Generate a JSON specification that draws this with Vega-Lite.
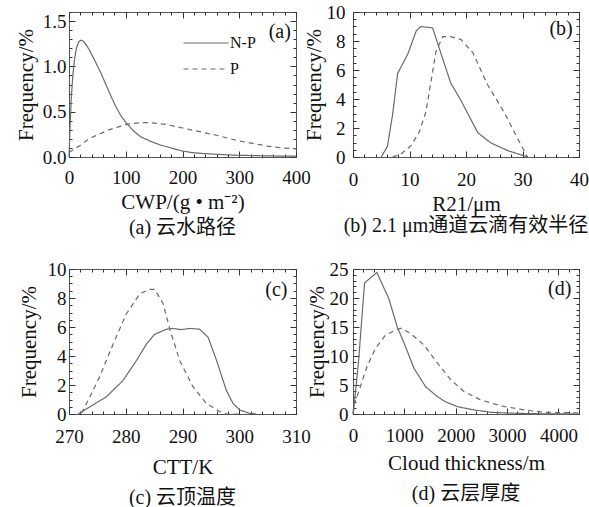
{
  "$schema": "https://vega.github.io/schema/vega-lite/v6.json",
  "padding": {"left": 14, "top": 2, "right": 5, "bottom": 0},
  "background": "white",
  "config": {
    "font": "Liberation Serif",
    "view": {"stroke": "#555", "strokeWidth": 1},
    "axis": {"labelFont": "Liberation Serif", "labelFontSize": 19, "labelColor": "#111", "titleFont": "Liberation Serif", "titleFontSize": 21, "titleFontWeight": "normal", "titleColor": "#111", "grid": false, "domain": false, "ticks": true, "tickColor": "#333", "tickWidth": 1, "tickSize": -6, "labelOverlap": false, "labelFlush": false},
    "title": {"font": "Liberation Serif, Noto Sans CJK SC", "fontSize": 20, "fontWeight": "normal", "color": "#111", "orient": "bottom", "frame": "group", "anchor": "middle"},
    "line": {"color": "#6a6a6a", "strokeWidth": 1.2},
    "text": {"font": "Liberation Serif", "fontSize": 20, "fill": "#111"}
  },
  "datasets": {
    "a": [
      {"x": 0, "y": 0.0, "s": "N-P"}, {"x": 2, "y": 0.35, "s": "N-P"}, {"x": 4, "y": 0.65, "s": "N-P"}, {"x": 7, "y": 0.92, "s": "N-P"}, {"x": 10, "y": 1.09, "s": "N-P"}, {"x": 13, "y": 1.2, "s": "N-P"}, {"x": 17, "y": 1.27, "s": "N-P"}, {"x": 21, "y": 1.29, "s": "N-P"}, {"x": 25, "y": 1.28, "s": "N-P"}, {"x": 30, "y": 1.24, "s": "N-P"}, {"x": 36, "y": 1.18, "s": "N-P"}, {"x": 45, "y": 1.07, "s": "N-P"}, {"x": 56, "y": 0.93, "s": "N-P"}, {"x": 65, "y": 0.8, "s": "N-P"}, {"x": 74, "y": 0.67, "s": "N-P"}, {"x": 83, "y": 0.55, "s": "N-P"}, {"x": 92, "y": 0.45, "s": "N-P"}, {"x": 103, "y": 0.36, "s": "N-P"}, {"x": 115, "y": 0.28, "s": "N-P"}, {"x": 127, "y": 0.22, "s": "N-P"}, {"x": 145, "y": 0.17, "s": "N-P"}, {"x": 162, "y": 0.13, "s": "N-P"}, {"x": 180, "y": 0.1, "s": "N-P"}, {"x": 197, "y": 0.07, "s": "N-P"}, {"x": 215, "y": 0.05, "s": "N-P"}, {"x": 232, "y": 0.04, "s": "N-P"}, {"x": 260, "y": 0.03, "s": "N-P"}, {"x": 291, "y": 0.02, "s": "N-P"}, {"x": 330, "y": 0.015, "s": "N-P"}, {"x": 370, "y": 0.01, "s": "N-P"}, {"x": 400, "y": 0.01, "s": "N-P"},
      {"x": 0, "y": 0.05, "s": "P"}, {"x": 10, "y": 0.09, "s": "P"}, {"x": 20, "y": 0.13, "s": "P"}, {"x": 33, "y": 0.19, "s": "P"}, {"x": 45, "y": 0.23, "s": "P"}, {"x": 56, "y": 0.26, "s": "P"}, {"x": 70, "y": 0.3, "s": "P"}, {"x": 86, "y": 0.33, "s": "P"}, {"x": 100, "y": 0.36, "s": "P"}, {"x": 115, "y": 0.37, "s": "P"}, {"x": 127, "y": 0.38, "s": "P"}, {"x": 140, "y": 0.38, "s": "P"}, {"x": 156, "y": 0.37, "s": "P"}, {"x": 170, "y": 0.36, "s": "P"}, {"x": 185, "y": 0.34, "s": "P"}, {"x": 200, "y": 0.32, "s": "P"}, {"x": 215, "y": 0.3, "s": "P"}, {"x": 230, "y": 0.28, "s": "P"}, {"x": 244, "y": 0.26, "s": "P"}, {"x": 260, "y": 0.24, "s": "P"}, {"x": 279, "y": 0.21, "s": "P"}, {"x": 297, "y": 0.18, "s": "P"}, {"x": 315, "y": 0.16, "s": "P"}, {"x": 333, "y": 0.14, "s": "P"}, {"x": 350, "y": 0.12, "s": "P"}, {"x": 375, "y": 0.1, "s": "P"}, {"x": 400, "y": 0.09, "s": "P"}
    ],
    "b": [
      {"x": 5, "y": 0, "s": "N-P"}, {"x": 6.1, "y": 0.74, "s": "N-P"}, {"x": 7, "y": 2.9, "s": "N-P"}, {"x": 7.9, "y": 5.76, "s": "N-P"}, {"x": 9.7, "y": 7.1, "s": "N-P"}, {"x": 11.2, "y": 8.7, "s": "N-P"}, {"x": 12, "y": 9.0, "s": "N-P"}, {"x": 14.1, "y": 8.9, "s": "N-P"}, {"x": 15.6, "y": 7.1, "s": "N-P"}, {"x": 17.3, "y": 5.1, "s": "N-P"}, {"x": 19.1, "y": 3.9, "s": "N-P"}, {"x": 22.1, "y": 1.67, "s": "N-P"}, {"x": 24.4, "y": 0.97, "s": "N-P"}, {"x": 27.4, "y": 0.44, "s": "N-P"}, {"x": 30.9, "y": 0, "s": "N-P"},
      {"x": 7, "y": 0, "s": "P"}, {"x": 8.5, "y": 0.2, "s": "P"}, {"x": 10.3, "y": 0.8, "s": "P"}, {"x": 11.7, "y": 1.7, "s": "P"}, {"x": 12.9, "y": 3.1, "s": "P"}, {"x": 13.8, "y": 5.2, "s": "P"}, {"x": 14.7, "y": 7.3, "s": "P"}, {"x": 15.9, "y": 8.3, "s": "P"}, {"x": 17.3, "y": 8.3, "s": "P"}, {"x": 19.1, "y": 8.1, "s": "P"}, {"x": 21.2, "y": 7.2, "s": "P"}, {"x": 23.8, "y": 5.0, "s": "P"}, {"x": 26.8, "y": 3.05, "s": "P"}, {"x": 29.1, "y": 1.3, "s": "P"}, {"x": 30.9, "y": 0, "s": "P"}
    ],
    "c": [
      {"x": 271.6, "y": 0, "s": "N-P"}, {"x": 273.7, "y": 0.5, "s": "N-P"}, {"x": 276.6, "y": 1.19, "s": "N-P"}, {"x": 279.5, "y": 2.3, "s": "N-P"}, {"x": 281.9, "y": 3.7, "s": "N-P"}, {"x": 283.7, "y": 4.85, "s": "N-P"}, {"x": 285.1, "y": 5.5, "s": "N-P"}, {"x": 287.2, "y": 5.85, "s": "N-P"}, {"x": 288.3, "y": 5.9, "s": "N-P"}, {"x": 289.8, "y": 5.82, "s": "N-P"}, {"x": 291.3, "y": 5.9, "s": "N-P"}, {"x": 293, "y": 5.85, "s": "N-P"}, {"x": 294.5, "y": 5.3, "s": "N-P"}, {"x": 296, "y": 3.7, "s": "N-P"}, {"x": 297.7, "y": 1.65, "s": "N-P"}, {"x": 298.9, "y": 0.73, "s": "N-P"}, {"x": 300.1, "y": 0.27, "s": "N-P"}, {"x": 301.8, "y": 0.05, "s": "N-P"}, {"x": 303, "y": 0, "s": "N-P"},
      {"x": 272.2, "y": 0.05, "s": "P"}, {"x": 273.7, "y": 1.2, "s": "P"}, {"x": 275.4, "y": 2.56, "s": "P"}, {"x": 277.8, "y": 4.85, "s": "P"}, {"x": 280.1, "y": 6.9, "s": "P"}, {"x": 282.5, "y": 8.3, "s": "P"}, {"x": 284.2, "y": 8.6, "s": "P"}, {"x": 285.1, "y": 8.6, "s": "P"}, {"x": 286.6, "y": 7.6, "s": "P"}, {"x": 287.8, "y": 5.8, "s": "P"}, {"x": 289.5, "y": 3.7, "s": "P"}, {"x": 291.8, "y": 1.9, "s": "P"}, {"x": 294.2, "y": 0.73, "s": "P"}, {"x": 296.5, "y": 0.18, "s": "P"}, {"x": 297.8, "y": 0, "s": "P"}, {"x": 300, "y": 0, "s": "P"}
    ],
    "d": [
      {"x": 0, "y": 0, "s": "N-P"}, {"x": 10, "y": 0.4, "s": "N-P"}, {"x": 110, "y": 9.3, "s": "N-P"}, {"x": 225, "y": 22.6, "s": "N-P"}, {"x": 465, "y": 24.4, "s": "N-P"}, {"x": 697, "y": 19.9, "s": "N-P"}, {"x": 860, "y": 15.05, "s": "N-P"}, {"x": 1023, "y": 11.6, "s": "N-P"}, {"x": 1186, "y": 7.9, "s": "N-P"}, {"x": 1414, "y": 4.7, "s": "N-P"}, {"x": 1643, "y": 3.0, "s": "N-P"}, {"x": 1800, "y": 2.1, "s": "N-P"}, {"x": 2034, "y": 1.26, "s": "N-P"}, {"x": 2359, "y": 0.69, "s": "N-P"}, {"x": 2685, "y": 0.29, "s": "N-P"}, {"x": 3208, "y": 0.11, "s": "N-P"}, {"x": 3700, "y": 0.03, "s": "N-P"}, {"x": 4400, "y": 0, "s": "N-P"},
      {"x": 0, "y": 0, "s": "P"}, {"x": 10, "y": 1.3, "s": "P"}, {"x": 143, "y": 4.7, "s": "P"}, {"x": 274, "y": 8.2, "s": "P"}, {"x": 436, "y": 11.3, "s": "P"}, {"x": 632, "y": 13.6, "s": "P"}, {"x": 794, "y": 14.3, "s": "P"}, {"x": 925, "y": 14.8, "s": "P"}, {"x": 1121, "y": 13.9, "s": "P"}, {"x": 1381, "y": 11.9, "s": "P"}, {"x": 1643, "y": 8.8, "s": "P"}, {"x": 1903, "y": 5.9, "s": "P"}, {"x": 2164, "y": 3.85, "s": "P"}, {"x": 2490, "y": 2.4, "s": "P"}, {"x": 2881, "y": 1.4, "s": "P"}, {"x": 3337, "y": 0.69, "s": "P"}, {"x": 3728, "y": 0.29, "s": "P"}, {"x": 4000, "y": 0.25, "s": "P"}, {"x": 4400, "y": 0.2, "s": "P"}
    ]
  },
  "columns": 2,
  "bounds": "flush",
  "spacing": {"row": 112, "column": 57},
  "concat": [
    {
      "width": 227, "height": 145,
      "title": {"text": "(a) 云水路径", "offset": 6},
      "data": {"name": "a"},
      "layer": [
        {
          "mark": {"type": "line"},
          "encoding": {
            "x": {"field": "x", "type": "quantitative", "scale": {"domain": [0, 400], "nice": false, "zero": false},
                  "axis": {"orient": "bottom", "title": "CWP/(g • m⁻²)", "values": [0,20,40,60,80,100,120,140,160,180,200,220,240,260,280,300,320,340,360,380,400], "labelExpr": "datum.value % 100 === 0 ? datum.label : ''", "tickDash": {"condition": {"test": "datum.value % 100 === 0", "value": [10, 0]}, "value": [3, 20]}, "labelPadding": 17, "titlePadding": 4}},
            "y": {"field": "y", "type": "quantitative", "scale": {"domain": [0, 1.6], "nice": false, "zero": false},
                  "axis": {"orient": "left", "title": "Frequency/%", "values": [0,0.1,0.2,0.3,0.4,0.5,0.6,0.7,0.8,0.9,1,1.1,1.2,1.3,1.4,1.5,1.6], "labelExpr": "indexof([0,0.5,1,1.5], datum.value) >= 0 ? format(datum.value, '.1f') : ''", "tickDash": {"condition": {"test": "indexof([0,0.5,1,1.5], datum.value) >= 0", "value": [10, 0]}, "value": [3, 20]}, "labelPadding": 9, "titlePadding": 6}},
            "strokeDash": {"field": "s", "type": "nominal", "scale": {"domain": ["N-P", "P"], "range": [[1, 0], [5, 4]]},
                  "legend": {"orient": "none", "legendX": 129, "legendY": 23, "title": null, "symbolType": "M-5,0H5", "symbolSize": 81, "symbolStrokeColor": "#6a6a6a", "symbolStrokeWidth": 1.2, "symbolFillColor": "transparent", "labelFont": "Liberation Serif", "labelFontSize": 16, "labelColor": "#111", "labelOffset": 16, "rowPadding": 10}}
          }
        },
        {
          "mark": {"type": "line", "strokeOpacity": 0},
          "encoding": {
            "x": {"field": "x", "type": "quantitative", "axis": {"orient": "top", "title": null, "labels": false, "values": [0,20,40,60,80,100,120,140,160,180,200,220,240,260,280,300,320,340,360,380,400], "tickDash": {"condition": {"test": "datum.value % 100 === 0", "value": [10, 0]}, "value": [3, 20]}}},
            "y": {"field": "y", "type": "quantitative", "axis": {"orient": "right", "title": null, "labels": false, "values": [0,0.1,0.2,0.3,0.4,0.5,0.6,0.7,0.8,0.9,1,1.1,1.2,1.3,1.4,1.5,1.6], "tickDash": {"condition": {"test": "indexof([0,0.5,1,1.5], datum.value) >= 0", "value": [10, 0]}, "value": [3, 20]}}},
            "detail": {"field": "s"}
          }
        },
        {
          "data": {"values": [{}]},
          "mark": {"type": "text", "align": "right", "baseline": "middle"},
          "encoding": {
            "x": {"datum": 391, "type": "quantitative", "axis": null},
            "y": {"datum": 1.38, "type": "quantitative", "axis": null},
            "text": {"value": "(a)"}
          }
        }
      ],
      "resolve": {"axis": {"x": "independent", "y": "independent"}}
    },
    {
      "width": 226, "height": 145,
      "title": {"text": "(b) 2.1 μm通道云滴有效半径", "offset": 2},
      "data": {"name": "b"},
      "layer": [
        {
          "mark": {"type": "line"},
          "encoding": {
            "x": {"field": "x", "type": "quantitative", "scale": {"domain": [0, 40], "nice": false, "zero": false},
                  "axis": {"orient": "bottom", "title": "R21/μm", "values": [0,2,4,6,8,10,12,14,16,18,20,22,24,26,28,30,32,34,36,38,40], "labelExpr": "datum.value % 10 === 0 ? datum.label : ''", "tickDash": {"condition": {"test": "datum.value % 10 === 0", "value": [10, 0]}, "value": [3, 20]}, "labelPadding": 19, "titlePadding": 4}},
            "y": {"field": "y", "type": "quantitative", "scale": {"domain": [0, 10], "nice": false, "zero": false},
                  "axis": {"orient": "left", "title": "Frequency/%", "values": [0,0.5,1,1.5,2,2.5,3,3.5,4,4.5,5,5.5,6,6.5,7,7.5,8,8.5,9,9.5,10], "labelExpr": "datum.value % 2 === 0 ? format(datum.value, 'd') : ''", "tickDash": {"condition": {"test": "datum.value % 2 === 0", "value": [10, 0]}, "value": [3, 20]}, "labelPadding": 14, "titlePadding": 2}},
            "strokeDash": {"field": "s", "type": "nominal", "scale": {"domain": ["N-P", "P"], "range": [[1, 0], [5, 4]]}, "legend": null}
          }
        },
        {
          "mark": {"type": "line", "strokeOpacity": 0},
          "encoding": {
            "x": {"field": "x", "type": "quantitative", "axis": {"orient": "top", "title": null, "labels": false, "values": [0,2,4,6,8,10,12,14,16,18,20,22,24,26,28,30,32,34,36,38,40], "tickDash": {"condition": {"test": "datum.value % 10 === 0", "value": [10, 0]}, "value": [3, 20]}}},
            "y": {"field": "y", "type": "quantitative", "axis": {"orient": "right", "title": null, "labels": false, "values": [0,0.5,1,1.5,2,2.5,3,3.5,4,4.5,5,5.5,6,6.5,7,7.5,8,8.5,9,9.5,10], "tickDash": {"condition": {"test": "datum.value % 2 === 0", "value": [10, 0]}, "value": [3, 20]}}},
            "detail": {"field": "s"}
          }
        },
        {
          "data": {"values": [{}]},
          "mark": {"type": "text", "align": "right", "baseline": "middle"},
          "encoding": {
            "x": {"datum": 38.9, "type": "quantitative", "axis": null},
            "y": {"datum": 8.86, "type": "quantitative", "axis": null},
            "text": {"value": "(b)"}
          }
        }
      ],
      "resolve": {"axis": {"x": "independent", "y": "independent"}}
    },
    {
      "width": 227, "height": 145,
      "title": {"text": "(c) 云顶温度", "offset": 11},
      "data": {"name": "c"},
      "layer": [
        {
          "mark": {"type": "line"},
          "encoding": {
            "x": {"field": "x", "type": "quantitative", "scale": {"domain": [270, 310], "nice": false, "zero": false},
                  "axis": {"orient": "bottom", "title": "CTT/K", "values": [270,272,274,276,278,280,282,284,286,288,290,292,294,296,298,300,302,304,306,308,310], "labelExpr": "datum.value % 10 === 0 ? datum.label : ''", "tickDash": {"condition": {"test": "datum.value % 10 === 0", "value": [10, 0]}, "value": [3, 20]}, "labelPadding": 19, "titlePadding": 10}},
            "y": {"field": "y", "type": "quantitative", "scale": {"domain": [0, 10], "nice": false, "zero": false},
                  "axis": {"orient": "left", "title": "Frequency/%", "values": [0,0.5,1,1.5,2,2.5,3,3.5,4,4.5,5,5.5,6,6.5,7,7.5,8,8.5,9,9.5,10], "labelExpr": "datum.value % 2 === 0 ? format(datum.value, 'd') : ''", "tickDash": {"condition": {"test": "datum.value % 2 === 0", "value": [10, 0]}, "value": [3, 20]}, "labelPadding": 9, "titlePadding": 8}},
            "strokeDash": {"field": "s", "type": "nominal", "scale": {"domain": ["N-P", "P"], "range": [[1, 0], [5, 4]]}, "legend": null}
          }
        },
        {
          "mark": {"type": "line", "strokeOpacity": 0},
          "encoding": {
            "x": {"field": "x", "type": "quantitative", "axis": {"orient": "top", "title": null, "labels": false, "values": [270,272,274,276,278,280,282,284,286,288,290,292,294,296,298,300,302,304,306,308,310], "tickDash": {"condition": {"test": "datum.value % 10 === 0", "value": [10, 0]}, "value": [3, 20]}}},
            "y": {"field": "y", "type": "quantitative", "axis": {"orient": "right", "title": null, "labels": false, "values": [0,0.5,1,1.5,2,2.5,3,3.5,4,4.5,5,5.5,6,6.5,7,7.5,8,8.5,9,9.5,10], "tickDash": {"condition": {"test": "datum.value % 2 === 0", "value": [10, 0]}, "value": [3, 20]}}},
            "detail": {"field": "s"}
          }
        },
        {
          "data": {"values": [{}]},
          "mark": {"type": "text", "align": "right", "baseline": "middle"},
          "encoding": {
            "x": {"datum": 308.5, "type": "quantitative", "axis": null},
            "y": {"datum": 8.53, "type": "quantitative", "axis": null},
            "text": {"value": "(c)"}
          }
        }
      ],
      "resolve": {"axis": {"x": "independent", "y": "independent"}}
    },
    {
      "width": 226, "height": 145,
      "title": {"text": "(d) 云层厚度", "offset": 11},
      "data": {"name": "d"},
      "layer": [
        {
          "mark": {"type": "line"},
          "encoding": {
            "x": {"field": "x", "type": "quantitative", "scale": {"domain": [0, 4400], "nice": false, "zero": false},
                  "axis": {"orient": "bottom", "title": "Cloud thickness/m", "values": [0,200,400,600,800,1000,1200,1400,1600,1800,2000,2200,2400,2600,2800,3000,3200,3400,3600,3800,4000,4200,4400], "labelExpr": "datum.value % 1000 === 0 ? format(datum.value, 'd') : ''", "tickDash": {"condition": {"test": "datum.value % 1000 === 0", "value": [10, 0]}, "value": [3, 20]}, "labelPadding": 18, "titlePadding": 7}},
            "y": {"field": "y", "type": "quantitative", "scale": {"domain": [0, 25], "nice": false, "zero": false},
                  "axis": {"orient": "left", "title": "Frequency/%", "values": [0,1,2,3,4,5,6,7,8,9,10,11,12,13,14,15,16,17,18,19,20,21,22,23,24,25], "labelExpr": "datum.value % 5 === 0 ? format(datum.value, 'd') : ''", "tickDash": {"condition": {"test": "datum.value % 5 === 0", "value": [10, 0]}, "value": [3, 20]}, "labelPadding": 11, "titlePadding": 2}},
            "strokeDash": {"field": "s", "type": "nominal", "scale": {"domain": ["N-P", "P"], "range": [[1, 0], [5, 4]]}, "legend": null}
          }
        },
        {
          "mark": {"type": "line", "strokeOpacity": 0},
          "encoding": {
            "x": {"field": "x", "type": "quantitative", "axis": {"orient": "top", "title": null, "labels": false, "values": [0,200,400,600,800,1000,1200,1400,1600,1800,2000,2200,2400,2600,2800,3000,3200,3400,3600,3800,4000,4200,4400], "tickDash": {"condition": {"test": "datum.value % 1000 === 0", "value": [10, 0]}, "value": [3, 20]}}},
            "y": {"field": "y", "type": "quantitative", "axis": {"orient": "right", "title": null, "labels": false, "values": [0,1,2,3,4,5,6,7,8,9,10,11,12,13,14,15,16,17,18,19,20,21,22,23,24,25], "tickDash": {"condition": {"test": "datum.value % 5 === 0", "value": [10, 0]}, "value": [3, 20]}}},
            "detail": {"field": "s"}
          }
        },
        {
          "data": {"values": [{}]},
          "mark": {"type": "text", "align": "right", "baseline": "middle"},
          "encoding": {
            "x": {"datum": 4250, "type": "quantitative", "axis": null},
            "y": {"datum": 21.5, "type": "quantitative", "axis": null},
            "text": {"value": "(d)"}
          }
        }
      ],
      "resolve": {"axis": {"x": "independent", "y": "independent"}}
    }
  ]
}
